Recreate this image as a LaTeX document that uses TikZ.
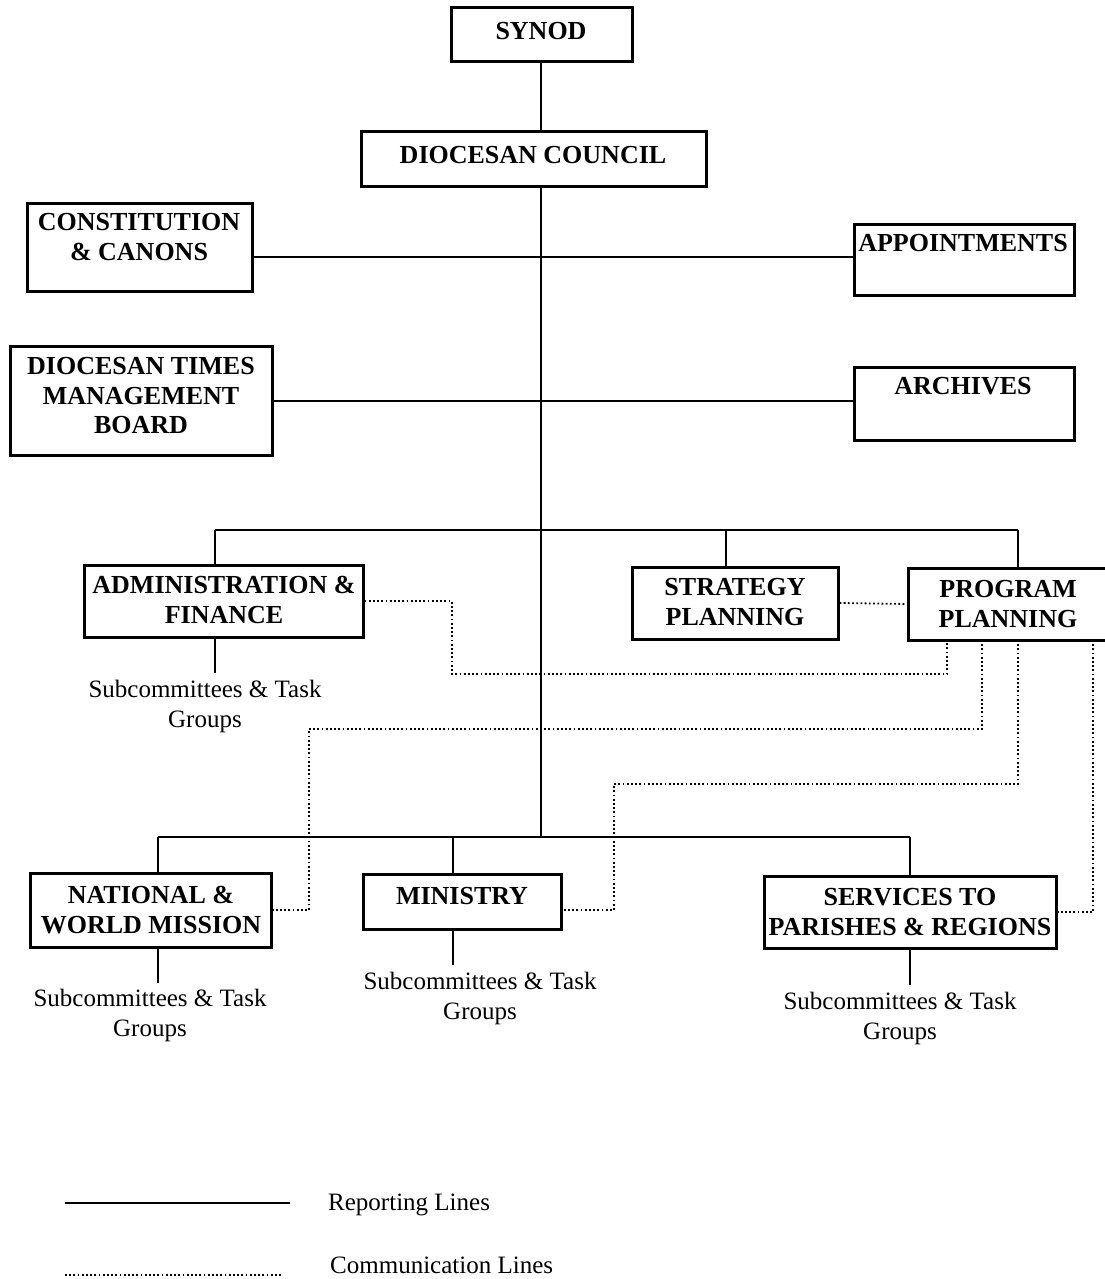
\documentclass[tikz,border=0pt]{standalone}
\usepackage{fontspec}
\setmainfont{Liberation Serif}
\begin{document}
\begin{tikzpicture}[x=1pt,y=-1pt,
 box/.style={draw, line width=3pt, rectangle, inner sep=0pt},
 lbl/.style={font=\bfseries\fontsize{26}{29.5}\selectfont, align=center, inner sep=0pt},
 sub/.style={font=\fontsize{25}{30}\selectfont, align=center, inner sep=0pt},
 rep/.style={line width=2.7pt},
 com/.style={line width=1.8pt, dash pattern=on 1.8pt off 2.4pt}]
\useasboundingbox (0,0) rectangle (1104,1279);

% boxes
\node[box, minimum width=181pt, minimum height=54pt] (syn) at (541.5,35) {};
\node[lbl] (synT) at (541,31) {SYNOD};
\node[box, minimum width=345pt, minimum height=54pt] (dc) at (533.5,159) {};
\node[lbl] (dcT) at (533,155) {DIOCESAN COUNCIL};
\node[box, minimum width=225pt, minimum height=88pt] (cc) at (139.5,247) {};
\node[lbl] (ccT) at (139,237) {CONSTITUTION\\\& CANONS};
\node[box, minimum width=220pt, minimum height=71pt] (app) at (964,259.5) {};
\node[lbl] (appT) at (963,243) {APPOINTMENTS};
\node[box, minimum width=262pt, minimum height=109pt] (dtmb) at (141,400.5) {};
\node[lbl] (dtmbT) at (141,396) {DIOCESAN TIMES\\MANAGEMENT\\BOARD};
\node[box, minimum width=220pt, minimum height=73pt] (arch) at (964,403.5) {};
\node[lbl] (archT) at (963,386) {ARCHIVES};
\node[box, minimum width=279pt, minimum height=72pt] (adm) at (223.5,601) {};
\node[lbl] (admT) at (224,600) {ADMINISTRATION \&\\FINANCE};
\node[box, minimum width=206pt, minimum height=72pt] (str) at (735,603) {};
\node[lbl] (strT) at (735,602) {STRATEGY\\PLANNING};
\node[box, minimum width=204pt, minimum height=72pt] (prg) at (1010,604) {};
\node[lbl] (prgT) at (1008,604) {PROGRAM\\PLANNING};
\node[box, minimum width=241pt, minimum height=74pt] (nat) at (150.5,910) {};
\node[lbl] (natT) at (151,910) {NATIONAL \&\\WORLD MISSION};
\node[box, minimum width=198pt, minimum height=55pt] (min) at (462,901.5) {};
\node[lbl] (minT) at (462,896) {MINISTRY};
\node[box, minimum width=292pt, minimum height=72pt] (srv) at (910,912) {};
\node[lbl] (srvT) at (910,912) {SERVICES TO\\PARISHES \& REGIONS};

% subcommittee labels
\node[sub] (admS) at (205,706) {Subcommittees \& Task\\Groups};
\node[sub] (natS) at (150,1015) {Subcommittees \& Task\\Groups};
\node[sub] (minS) at (480,998) {Subcommittees \& Task\\Groups};
\node[sub] (srvS) at (900,1018) {Subcommittees \& Task\\Groups};

% coordinates
\coordinate (spineTop) at (541,62);
\coordinate (spineBot) at (541,837);
\coordinate (b1l) at (215,530);
\coordinate (b1m) at (726,530);
\coordinate (b1r) at (1018,530);
\coordinate (b2l) at (158,837);
\coordinate (b2m) at (453,837);
\coordinate (b2r) at (910,837);
\coordinate (admE) at (215,673);
\coordinate (natE) at (158,983);
\coordinate (minE) at (453,965);
\coordinate (srvE) at (910,985);

% reporting lines
\draw[rep] (spineTop) -- (spineTop |- dc.north);
\draw[rep] (spineTop |- dc.south) -- (spineBot);
\draw[rep] (cc.east |- 0,257) -- (app.west |- 0,257);
\draw[rep] (dtmb.east |- 0,401) -- (arch.west |- 0,401);
\draw[rep] (b1l) -- (b1r);
\draw[rep] (b1l) -- (b1l |- adm.north);
\draw[rep] (b1m) -- (b1m |- str.north);
\draw[rep] (b1r) -- (b1r |- prg.north);
\draw[rep] (b2l) -- (b2r);
\draw[rep] (b2l) -- (b2l |- nat.north);
\draw[rep] (b2m) -- (b2m |- min.north);
\draw[rep] (b2r) -- (b2r |- srv.north);
\draw[rep] (admE |- adm.south) -- (admE);
\draw[rep] (natE |- nat.south) -- (natE);
\draw[rep] (minE |- min.south) -- (minE);
\draw[rep] (srvE |- srv.south) -- (srvE);

% communication lines
\draw[com] (str.east) -- (prg.west);
\draw[com] (adm.east) -| (452,674) -| (947,640);
\draw[com] (982,640) |- (309,729) |- (nat.east);
\draw[com] (1018,640) |- (614,784) |- ([yshift=-8.5pt]min.east);
\draw[com] (1093,640) |- (srv.east);

% legend
\coordinate (lg1a) at (65,1203);
\coordinate (lg1b) at (290,1203);
\coordinate (lg2a) at (65,1275);
\coordinate (lg2b) at (283,1275);
\draw[rep] (lg1a) -- (lg1b);
\draw[com] (lg2a) -- (lg2b);
\node[sub, anchor=west] (lgT1) at (328,1205) {Reporting Lines};
\node[sub, anchor=west] (lgT2) at (330,1265) {Communication Lines};
\end{tikzpicture}
\end{document}
